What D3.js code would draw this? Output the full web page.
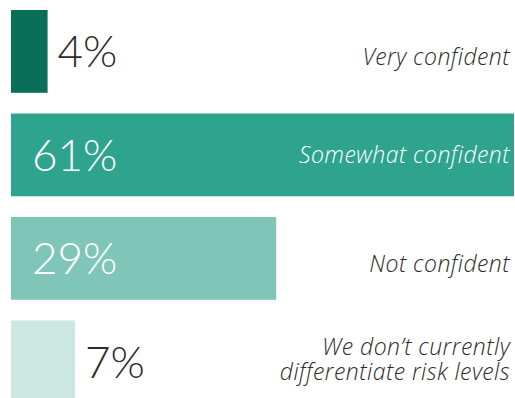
<!DOCTYPE html>
<html>
<head>
<meta charset="utf-8">
<script src="https://cdn.jsdelivr.net/npm/d3@7"></script>
<style>
  html, body { margin: 0; padding: 0; background: #fff; }
  svg { display: block; }
</style>
</head>
<body>
<div id="chart"></div>
<script>
// Werte aus der Vorlage
const categories = ["Very confident", "Somewhat confident", "Not confident", "We don’t currently differentiate risk levels"];
const labelLines = [["Very confident"], ["Somewhat confident"], ["Not confident"], ["We don’t currently", "differentiate risk levels"]];
const values = [4, 61, 29, 7];
const colors = ["#0a6f59", "#2ea38d", "#80c6b8", "#cce8e2"];

const width = 515, height = 398;

const svg = d3.select("#chart")
    .append("svg")
    .attr("width", width)
    .attr("height", height);

// x: 61 % laeuft ueber den Rand hinaus -> clamp
const xx = d3.scaleLinear()
    .domain([0, 55])
    .range([11, 514])
    .clamp(true);

const yy = d3.scaleBand()
    .domain(categories)
    .range([10, 403.3])
    .paddingInner(0.2)
    .paddingOuter(0);

const rows = categories.map((c, i) => ({cat: c, value: values[i], color: colors[i], lines: labelLines[i]}));

const g = svg.selectAll("g.row")
    .data(rows)
    .enter()
    .append("g")
    .attr("class", "row");

g.append("rect")
    .attr("x", xx(0))
    .attr("y", d => yy(d.cat))
    .attr("width", d => xx(d.value) - xx(0))
    .attr("height", yy.bandwidth())
    .attr("fill", d => d.color);

// Prozentwerte: innen weiss, wenn der Balken breit genug ist
const inside = d => d.value >= 20;

g.append("text")
    .attr("x", d => inside(d) ? xx(0) + 21 : xx(d.value) + 10)
    .attr("y", d => yy(d.cat) + yy.bandwidth() / 2 + 16)
    .text(d => d.value + "%")
    .style("font-family", "Lato, 'Open Sans', sans-serif")
    .style("font-weight", 300)
    .style("font-size", "44px")
    .style("fill", d => inside(d) ? "#ffffff" : "#2b2b2b");

// Kategorien rechtsbuendig, kursiv
const labels = g.append("text")
    .attr("text-anchor", "end")
    .style("font-family", "'Open Sans', Lato, sans-serif")
    .style("font-style", "italic")
    .style("font-weight", 350)
    .style("font-size", "23px")
    .style("letter-spacing", "0.45px")
    .style("fill", d => xx(d.value) > 400 ? "#ffffff" : "#2b2b2b");

labels.each(function (d) {
    const t = d3.select(this);
    const mid = yy(d.cat) + yy.bandwidth() / 2;
    const n = d.lines.length;
    let base;
    if (n > 1) base = mid - 6.5;
    else base = xx(d.value) > 400 ? mid + 8.5 : mid + 13.5;
    d.lines.forEach((l, k) => {
        t.append("tspan")
            .attr("x", 510)
            .attr("y", base + k * 25)
            .text(l);
    });
});
</script>
</body>
</html>
